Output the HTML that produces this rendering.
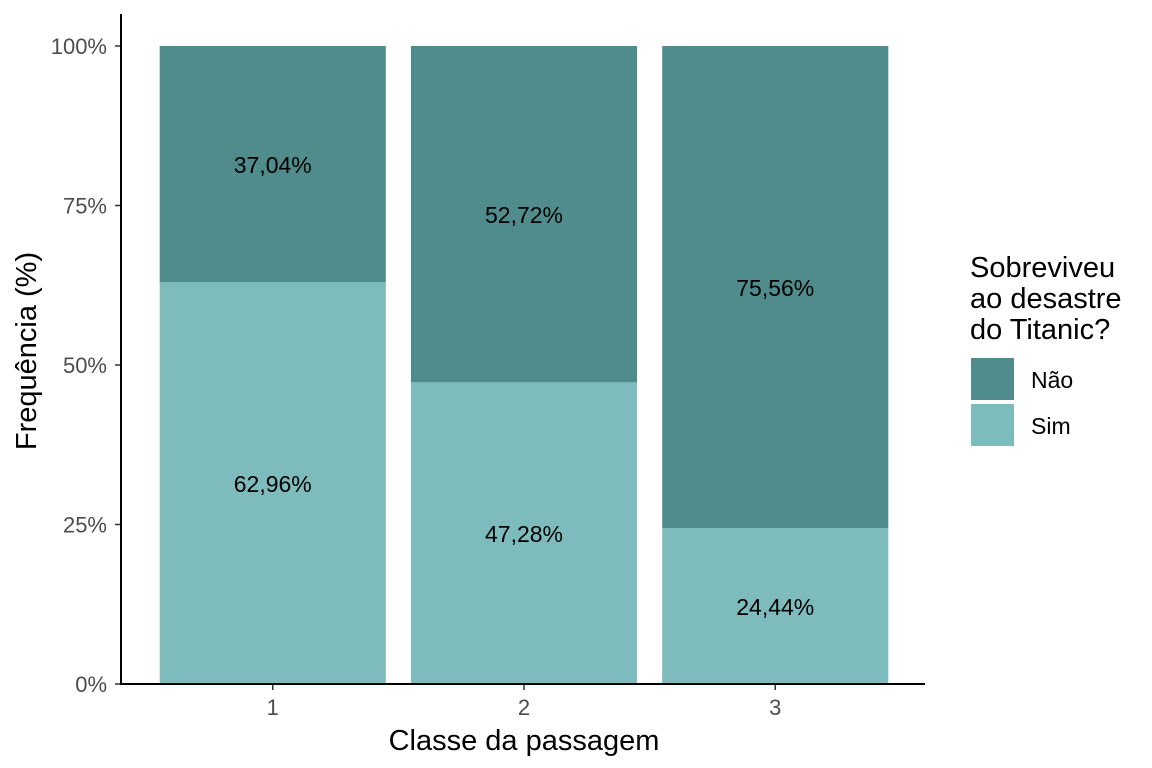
<!DOCTYPE html>
<html><head><meta charset="utf-8"><style>
body{margin:0;background:#fff}
svg{display:block;font-family:"Liberation Sans",Arial,sans-serif}
</style></head><body>
<svg id="chart" width="1152" height="768" viewBox="0 0 1152 768">
<g id="bars"></g>
<g id="axes"></g>
<text x="524" y="750" text-anchor="middle" font-size="29" fill="#000">Classe da passagem</text>
<text transform="translate(36,351) rotate(-90)" text-anchor="middle" font-size="29" fill="#000">Frequência (%)</text>
<g>
<text x="970" y="277" font-size="29" fill="#000"><tspan x="970">Sobreviveu</tspan><tspan x="970" dy="31">ao desastre</tspan><tspan x="970" dy="31">do Titanic?</tspan></text>
<rect x="971" y="358" width="43" height="42" fill="#4f8c8b"/>
<rect x="971" y="404" width="43" height="42" fill="#7dbbbd"/>
<text x="1031" y="388" font-size="23" fill="#000">Não</text>
<text x="1031" y="434" font-size="23" fill="#000">Sim</text>
</g>
</svg>
<script>
const categories=["1","2","3"];
const simValues=[62.96,47.28,24.44];
const naoValues=[37.04,52.72,75.56];
const yTicks=[0,25,50,75,100];
const yTickLabels=["0%","25%","50%","75%","100%"];
const NS="http://www.w3.org/2000/svg";
const x0=121,x1=925,y0=684,y1=46;
const band=(x1-x0)/(categories.length+0.2);
const xc=i=>x0+1+band*(i+0.6);
function Y(v){return y0-v/100*(y0-y1);}
function mk(tag,attrs,parent){const e=document.createElementNS(NS,tag);for(const k in attrs)e.setAttribute(k,attrs[k]);parent.appendChild(e);return e;}
const bars=document.getElementById('bars'),axes=document.getElementById('axes');
const fmt=v=>v.toFixed(2).replace('.',',')+'%';
categories.forEach((c,i)=>{
  const w=band*0.9,l=xc(i)-w/2;
  const s=simValues[i],n=naoValues[i];
  let r=mk('rect',{x:l,y:Y(s),width:w,height:Y(0)-Y(s),fill:'#7dbbbd'},bars);
  
  
  r=mk('rect',{x:l,y:Y(s+n),width:w,height:Y(s)-Y(s+n),fill:'#4f8c8b'},bars);
  
  
  let t=mk('text',{x:xc(i),y:Y(s/2)+9,'text-anchor':'middle','font-size':23,fill:'#000'},bars);
  t.textContent=fmt(s);
  
  
  t=mk('text',{x:xc(i),y:Y(s+n/2)+9,'text-anchor':'middle','font-size':23,fill:'#000'},bars);
  t.textContent=fmt(n);
  
  
  const tk=mk('line',{x1:xc(i),x2:xc(i),y1:y0,y2:y0+6,stroke:'#333','stroke-width':1.5},axes);
  
  
  const tl=mk('text',{x:xc(i),y:715,'text-anchor':'middle','font-size':22,fill:'#4d4d4d'},axes);
  tl.textContent=c;
  
  
});
yTicks.forEach((v,i)=>{
  const tk=mk('line',{x1:115,x2:x0,y1:Y(v),y2:Y(v),stroke:'#333','stroke-width':1.5},axes);
  
  
  const tl=mk('text',{x:107,y:Y(v)+8,'text-anchor':'end','font-size':22,fill:'#4d4d4d'},axes);
  tl.textContent=yTickLabels[i];
  
  
});
let a=mk('line',{x1:x0,x2:x0,y1:14,y2:y0+1,stroke:'#000','stroke-width':2},axes);


a=mk('line',{x1:x0-1,x2:x1,y1:y0,y2:y0,stroke:'#000','stroke-width':2},axes);


</script>
</body></html>
